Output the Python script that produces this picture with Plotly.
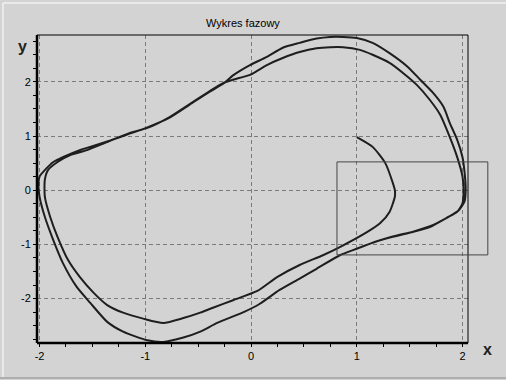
import plotly.graph_objects as go

# ---- data (phase trajectory, in order) ----
traj_x = [
    1.00, 1.15, 1.27, 1.34, 1.36, 1.36, 1.31, 1.22, 1.10, 0.84, 0.68, 0.46, 0.25, 0.06,
    -0.17, -0.36, -0.48, -0.64, -0.83, -1.02, -1.21, -1.36, -1.49, -1.62, -1.73, -1.83, -1.90,
    -1.95, -1.95, -1.92, -1.83, -1.71, -1.55,
    -1.36, -1.14, -0.98, -0.77, -0.58, -0.39, -0.26,
    -0.17, -0.01, 0.15, 0.30, 0.46, 0.62, 0.75, 0.87, 1.03, 1.15, 1.31, 1.44, 1.57, 1.69, 1.79,
    1.88, 1.95, 2.00, 2.01,
    2.00, 1.95, 1.85, 1.69, 1.53, 1.34, 1.15, 1.00, 0.84,
    0.62, 0.46, 0.27, 0.08, -0.06, -0.32, -0.48, -0.64,
    -0.83, -0.98, -1.21, -1.36, -1.52, -1.65, -1.78, -1.87, -1.95, -2.00, -2.01, -2.00,
    -1.95, -1.87, -1.78, -1.62,
    -1.36, -1.14, -0.98, -0.77, -0.58, -0.39, -0.26,
    -0.17, -0.01, 0.15, 0.30, 0.46, 0.62, 0.75, 0.87, 1.00, 1.15, 1.31, 1.48, 1.60, 1.72, 1.82,
    1.88, 1.95, 2.00, 2.02, 2.03,
    2.02, 1.96, 1.86, 1.70, 1.54, 1.35, 1.16,
]
traj_y = [
    0.98, 0.80, 0.50, 0.14, 0.00, -0.12, -0.40, -0.61, -0.77, -1.05, -1.20, -1.38, -1.60, -1.86,
    -2.03, -2.17, -2.26, -2.36, -2.45, -2.37, -2.26, -2.12, -1.89, -1.60, -1.29, -0.86, -0.49,
    -0.12, 0.19, 0.37, 0.52, 0.65, 0.74,
    0.89, 1.06, 1.15, 1.35, 1.59, 1.83, 1.98,
    2.04, 2.13, 2.31, 2.44, 2.55, 2.62, 2.64, 2.64, 2.59, 2.50, 2.35, 2.16, 1.94, 1.67, 1.39,
    0.98, 0.61, 0.25, 0.01,
    -0.24, -0.40, -0.51, -0.68, -0.77, -0.86, -0.97, -1.08, -1.20,
    -1.45, -1.63, -1.84, -2.10, -2.24, -2.45, -2.61, -2.72,
    -2.80, -2.77, -2.61, -2.43, -2.08, -1.78, -1.34, -0.92, -0.49, -0.12, 0.06, 0.25,
    0.37, 0.52, 0.61, 0.74,
    0.90, 1.05, 1.16, 1.34, 1.58, 1.82, 1.97,
    2.12, 2.31, 2.46, 2.63, 2.72, 2.80, 2.83, 2.83, 2.81, 2.72, 2.53, 2.28, 2.04, 1.80, 1.54,
    1.24, 0.93, 0.61, 0.32, 0.01,
    -0.20, -0.38, -0.50, -0.66, -0.76, -0.85, -0.96,
]

tick_vals = [-2, -1, 0, 1, 2]
tick_labels = ["-2", "-1", "0", "1", "2"]
title_text = "Wykres fazowy"
x_label = "x"
y_label = "y"

BG = "#d3d3d3"
FONT = "Arial, Liberation Sans, sans-serif"

fig = go.Figure()
fig.add_trace(go.Scatter(
    x=traj_x, y=traj_y, mode="lines",
    line=dict(color="#1e1e1e", width=2, shape="spline", smoothing=0.6),
    hoverinfo="skip", showlegend=False,
))

axis_common = dict(
    tickmode="array", tickvals=tick_vals, ticktext=tick_labels,
    showgrid=True, gridcolor="#7a7a7a", gridwidth=1, griddash="4px,3px",
    zeroline=False, showline=False,
    ticks="outside", ticklen=3, tickcolor="#000000", tickwidth=1,
    tickfont=dict(family=FONT, size=11, color="#000000"),
    minor=dict(tickmode="linear", tick0=0, dtick=0.25, ticks="outside", ticklen=3,
               tickcolor="#000000", showgrid=False),
    fixedrange=True,
)

fig.update_layout(
    width=506, height=380,
    margin=dict(l=37, r=38, t=35, b=37),
    paper_bgcolor=BG, plot_bgcolor=BG,
    xaxis=dict(range=[-2.024, 2.052], **axis_common),
    yaxis=dict(range=[-2.82, 2.865], **axis_common),
    showlegend=False,
)

shapes = [
    # thin frame
    dict(type="rect", xref="paper", yref="paper", x0=0, x1=1, y0=0, y1=1,
         line=dict(color="#000000", width=1), layer="above"),
    # thick left & bottom axes
    dict(type="line", xref="paper", yref="paper", x0=0, x1=0, y0=0, y1=1,
         line=dict(color="#000000", width=2.5), layer="above"),
    dict(type="line", xref="paper", yref="paper", x0=0, x1=1, y0=0, y1=0,
         line=dict(color="#000000", width=2.5), layer="above"),
    # zoom rectangle
    dict(type="rect", xref="paper", yref="paper", x0=0.696, x1=1.046, y0=0.286, y1=0.588,
         line=dict(color="#454545", width=1), layer="above"),
    # window 3D border
    dict(type="line", xref="paper", yref="paper", x0=-0.0789, x1=-0.0789, y0=-0.1104, y1=1.1039,
         line=dict(color="#ffffff", width=1)),
    dict(type="line", xref="paper", yref="paper", x0=-0.0789, x1=1.09, y0=1.1039, y1=1.1039,
         line=dict(color="#ffffff", width=1)),
    dict(type="line", xref="paper", yref="paper", x0=-0.09, x1=1.09, y0=-0.1136, y1=-0.1136,
         line=dict(color="#8a8a8a", width=1)),
]
fig.update_layout(shapes=shapes)

fig.add_annotation(text=title_text, xref="paper", yref="paper", x=0.477, y=1.039,
                   xanchor="center", yanchor="middle", showarrow=False,
                   font=dict(family=FONT, size=11, color="#000000"))
fig.add_annotation(text="<b>" + y_label + "</b>", xref="paper", yref="paper", x=-0.0348, y=0.964,
                   xanchor="center", yanchor="middle", showarrow=False,
                   font=dict(family=FONT, size=16, color="#222222"))
fig.add_annotation(text="<b>" + x_label + "</b>", xref="paper", yref="paper", x=1.046, y=-0.0195,
                   xanchor="center", yanchor="middle", showarrow=False,
                   font=dict(family=FONT, size=16, color="#222222"))

fig.write_html("out.html", config={"displayModeBar": False},
               post_script="document.body.style.margin='0';document.body.style.overflow='hidden';")
